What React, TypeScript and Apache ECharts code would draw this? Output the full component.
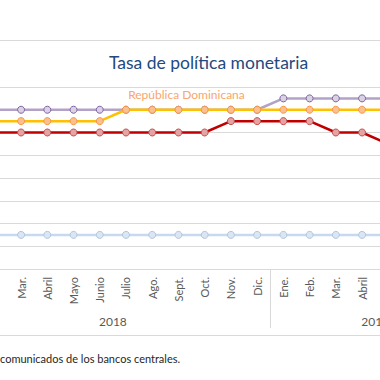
import React, { useEffect, useRef } from "react";
import * as echarts from "echarts";

const years = [
  { name: "2018", months: ["Ene.", "Feb.", "Mar.", "Abril", "Mayo", "Junio", "Julio", "Ago.", "Sept.", "Oct.", "Nov.", "Dic."] },
  { name: "2019", months: ["Ene.", "Feb.", "Mar.", "Abril", "Mayo", "Junio", "Julio", "Ago."] },
];

const categories = years.flatMap((y) => y.months.map((m) => `${y.name}|${m}`));

// month labels that fall inside the visible crop
const firstLabelShown = 2;
const lastLabelShown = 15;

const purpleValues = [5.5, 5.5, 5.5, 5.5, 5.5, 5.5, 5.5, 5.5, 5.5, 5.5, 5.5, 5.5, 5.75, 5.75, 5.75, 5.75, 5.75, 5.75, 5.75, 5.75];
const dominicanValues = [5.25, 5.25, 5.25, 5.25, 5.25, 5.25, 5.5, 5.5, 5.5, 5.5, 5.5, 5.5, 5.5, 5.5, 5.5, 5.5, 5.5, 5.5, 5.5, 5.5];
const redValues = [5.0, 5.0, 5.0, 5.0, 5.0, 5.0, 5.0, 5.0, 5.0, 5.0, 5.25, 5.25, 5.25, 5.25, 5.0, 5.0, 4.75, 4.75, 4.75, 4.75];
const blueValues = [2.75, 2.75, 2.75, 2.75, 2.75, 2.75, 2.75, 2.75, 2.75, 2.75, 2.75, 2.75, 2.75, 2.75, 2.75, 2.75, 2.75, 2.75, 2.75, 2.75];

const dominicanLabel = "República Dominicana";
const dominicanLabelIndex = 8;

const titleText = "Tasa de política monetaria";
const footerText = "comunicados de los bancos centrales.";

const yMin = 2;
const yMax = 6;
const yInterval = 0.5;

export default function App() {
  const ref = useRef<HTMLDivElement>(null);

  useEffect(() => {
    if (!ref.current) return;
    const chart = echarts.init(ref.current, undefined, { renderer: "svg" });
    const shift = 100;
    const band = 26.23;
    const n = categories.length;

    const yearBounds: number[] = [0];
    years.forEach((y) => yearBounds.push(yearBounds[yearBounds.length - 1] + y.months.length));
    const yearCenters = years.map((_, i) => (yearBounds[i] + yearBounds[i + 1]) / 2);

    const font = "Lato, 'Open Sans', sans-serif";
    const gridColor = "#D9D9D9";

    const mkSeries = (name: string, data: any[], line: string, fill: string, border: string, z: number) => ({
      name,
      type: "line",
      data,
      symbol: "circle",
      symbolSize: 7,
      z,
      lineStyle: { color: line, width: 2.5 },
      itemStyle: { color: fill, borderColor: border, borderWidth: 1 },
      emphasis: { disabled: true },
    });

    const domData = dominicanValues.map((v, i) =>
      i === dominicanLabelIndex
        ? {
            value: v,
            label: {
              show: true,
              position: "top",
              distance: 5,
              offset: [8, 0],
              formatter: dominicanLabel,
              color: "#F9A66C",
              fontSize: 12,
              fontFamily: font,
            },
          }
        : v
    );

    chart.setOption({
      animation: false,
      grid: { left: shift - 44.5, top: 87, width: band * n, height: 182 },
      xAxis: [
        {
          type: "category",
          data: categories,
          boundaryGap: true,
          axisLine: { show: true, lineStyle: { color: gridColor, width: 1 } },
          axisTick: { show: false },
          axisLabel: {
            rotate: 90,
            margin: 8,
            interval: (i: number) => i >= firstLabelShown && i <= lastLabelShown,
            color: "#595959",
            fontSize: 11,
            fontFamily: font,
            formatter: (v: string) => v.split("|")[1],
          },
        },
        {
          type: "value",
          position: "bottom",
          min: 0,
          max: n,
          axisLine: { show: false },
          splitLine: { show: false },
          axisTick: {
            show: true,
            customValues: yearBounds.slice(1, -1),
            length: 59,
            lineStyle: { color: gridColor, width: 1 },
          },
          axisLabel: {
            show: true,
            customValues: yearCenters,
            margin: 46,
            color: "#595959",
            fontSize: 12,
            fontFamily: font,
            formatter: (v: number) => {
              const i = yearCenters.indexOf(v);
              return i >= 0 ? years[i].name : "";
            },
          },
        },
      ],
      yAxis: {
        type: "value",
        min: yMin,
        max: yMax,
        interval: yInterval,
        axisLabel: { show: false },
        axisLine: { show: false },
        axisTick: { show: false },
        splitLine: { lineStyle: { color: gridColor, width: 1 } },
      },
      series: [
        mkSeries("Purple", purpleValues, "#B3A2C7", "#D9D2E3", "#8064A2", 2),
        mkSeries("República Dominicana", domData, "#FFC000", "#FAC090", "#F79646", 3),
        mkSeries("Red", redValues, "#C00000", "#E6A3A3", "#C0504D", 4),
        mkSeries("Blue", blueValues, "#C6D9F1", "#DCE6F2", "#B0C6E2", 5),
      ],
      graphic: [
        { type: "line", shape: { x1: 0, y1: 40.5, x2: 700, y2: 40.5 }, style: { stroke: gridColor, lineWidth: 1 } },
        { type: "line", shape: { x1: 0, y1: 335.5, x2: 700, y2: 335.5 }, style: { stroke: gridColor, lineWidth: 1 } },
        {
          type: "text",
          x: shift + 208.5,
          y: 62,
          style: {
            text: titleText,
            fill: "#234A7E",
            fontSize: 17.5,
            fontFamily: font,
            align: "center",
            verticalAlign: "middle",
          },
        },
        {
          type: "text",
          x: shift + 0,
          y: 358,
          style: {
            text: footerText,
            fill: "#262626",
            fontSize: 11,
            fontFamily: font,
            align: "left",
            verticalAlign: "middle",
          },
        },
      ],
    });
    return () => chart.dispose();
  }, []);

  return (
    <div style={{ position: "fixed", left: 0, top: 0, width: 380, height: 380, overflow: "hidden", background: "#fff" }}>
      <div ref={ref} style={{ position: "absolute", left: -100, top: 0, width: 700, height: 380 }} />
    </div>
  );
}
